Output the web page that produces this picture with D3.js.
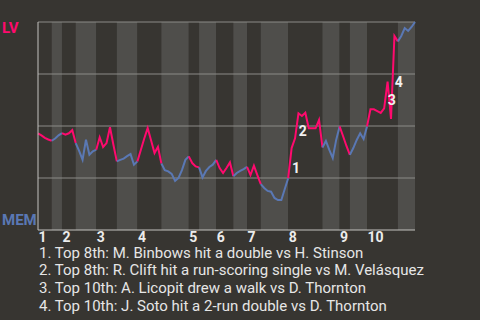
<!DOCTYPE html>
<html>
<head>
<meta charset="utf-8">
<script src="https://cdn.jsdelivr.net/npm/d3@7"></script>
<style>
  html, body { margin: 0; padding: 0; background: #373531; }
  svg { display: block; font-family: Roboto, sans-serif; }
</style>
</head>
<body>
<div id="chart"></div>
<script>
// LV win probability after each play (0 = MEM wins, 1 = LV wins)
const winProb = [
  0.465, 0.455, 0.443, 0.435, 0.429, 0.44, 0.455, 0.466, 0.458, 0.465,
  0.48, 0.418, 0.38, 0.338, 0.434, 0.362, 0.378, 0.386, 0.446, 0.399,
  0.418, 0.494, 0.41, 0.33, 0.337, 0.343, 0.355, 0.365, 0.314, 0.33,
  0.385, 0.44, 0.49, 0.43, 0.37, 0.40, 0.32, 0.288, 0.282, 0.27,
  0.236, 0.25, 0.288, 0.337, 0.354, 0.322, 0.306, 0.301, 0.253, 0.284,
  0.303, 0.314, 0.337, 0.298, 0.274, 0.298, 0.325, 0.258, 0.274, 0.284,
  0.293, 0.304, 0.264, 0.309, 0.264, 0.221, 0.202, 0.188, 0.184, 0.154,
  0.144, 0.144, 0.197, 0.249, 0.394, 0.441, 0.561, 0.548, 0.564, 0.489,
  0.489, 0.489, 0.529, 0.397, 0.428, 0.385, 0.346, 0.433, 0.498, 0.452,
  0.404, 0.361, 0.394, 0.433, 0.465, 0.438, 0.498, 0.58, 0.58, 0.572,
  0.563, 0.585, 0.713, 0.534, 0.933, 0.907, 0.933, 0.971, 0.957, 0.976,
  1.0
];
// play index where each half inning starts (top 1, bot 1, top 2, ...), plus the end
const halfStarts = [0, 4, 7, 11, 17, 23, 29, 36, 44, 47, 52, 57, 61, 65, 73, 83, 88, 91, 96, 105, 110];
const innings = ["1", "2", "3", "4", "5", "6", "7", "8", "9", "10"];
const gridTicks = [0.25, 0.5, 0.75, 1];
// key plays
const eventPlays = [74, 76, 102, 104];
const eventTexts = [
  "Top 8th: M. Binbows hit a double vs H. Stinson",
  "Top 8th: R. Clift hit a run-scoring single vs M. Velásquez",
  "Top 10th: A. Licopit drew a walk vs D. Thornton",
  "Top 10th: J. Soto hit a 2-run double vs D. Thornton"
];
const teams = ["LV", "MEM"];

const W = 480, H = 320;
const margin = { top: 22, right: 65, bottom: 90, left: 38 };
const width = W - margin.left - margin.right;
const height = H - margin.top - margin.bottom;
const awayColor = "#ff0a6e";
const homeColor = "#5a78b4";

const svg = d3.select("#chart").append("svg")
  .attr("width", W)
  .attr("height", H);
const g = svg.append("g")
  .attr("transform", "translate(" + margin.left + "," + margin.top + ")");

const x = d3.scaleLinear()
  .domain([0, winProb.length - 1])
  .range([0, width]);
const y = d3.scaleLinear()
  .domain([0, 1])
  .range([height, 0]);

// half inning bands, bottom halves lighter
const halves = d3.range(halfStarts.length - 1).map(i => ({
  start: halfStarts[i], end: halfStarts[i + 1], top: i % 2 === 0
}));
g.selectAll("rect.band")
  .data(halves)
  .join("rect")
  .attr("class", "band")
  .attr("x", d => x(d.start))
  .attr("width", d => x(d.end) - x(d.start))
  .attr("y", 0)
  .attr("height", height)
  .attr("fill", d => d.top ? "#373531" : "#4f4e4b");

// grid lines
g.selectAll("line.grid")
  .data(gridTicks)
  .join("line")
  .attr("class", "grid")
  .attr("x1", 0).attr("x2", width)
  .attr("y1", d => y(d)).attr("y2", d => y(d))
  .attr("stroke", "#8c8b88")
  .attr("stroke-width", 1);

// win probability line, coloured by the team at bat
const line = d3.line()
  .x(d => x(d))
  .y(d => y(winProb[d]));
g.selectAll("path.wp")
  .data(halves)
  .join("path")
  .attr("class", "wp")
  .attr("fill", "none")
  .attr("stroke", d => d.top ? awayColor : homeColor)
  .attr("stroke-width", 2)
  .attr("d", d => line(d3.range(d.start, d.end + 1)));

// axes frame
g.append("line")
  .attr("x1", 0).attr("x2", 0).attr("y1", 0).attr("y2", height)
  .attr("stroke", "#c4c3c0").attr("stroke-width", 1);
g.append("line")
  .attr("x1", 0).attr("x2", width).attr("y1", height).attr("y2", height)
  .attr("stroke", "#c4c3c0").attr("stroke-width", 1);

// inning numbers
const xAxis = d3.axisBottom(x)
  .tickValues(innings.map((d, i) => halfStarts[i * 2]))
  .tickFormat((d, i) => innings[i])
  .tickSize(0);
const ax = g.append("g")
  .attr("transform", "translate(0," + height + ")")
  .call(xAxis);
ax.select(".domain").remove();
ax.selectAll("text")
  .attr("text-anchor", "start")
  .attr("dy", null)
  .attr("y", 12)
  .attr("fill", "#ececec")
  .attr("font-size", 14)
  .attr("font-weight", "bold")
  .attr("font-family", "Roboto, sans-serif");

// event markers
g.selectAll("text.event")
  .data(eventPlays)
  .join("text")
  .attr("class", "event")
  .attr("x", d => (x(d - 1) + x(d)) / 2 + 2)
  .attr("y", d => (y(winProb[d - 1]) + y(winProb[d])) / 2 + 10)
  .attr("fill", "#f0f0f0")
  .attr("font-size", 14)
  .attr("font-weight", "bold")
  .text((d, i) => i + 1);

// team labels
svg.append("text")
  .attr("x", 2).attr("y", margin.top + 11)
  .attr("fill", awayColor)
  .attr("font-size", 15)
  .attr("font-weight", "bold")
  .text(teams[0]);
svg.append("text")
  .attr("x", 2).attr("y", margin.top + height - 5)
  .attr("fill", homeColor)
  .attr("font-size", 15)
  .attr("font-weight", "bold")
  .text(teams[1]);

// legend of key plays
svg.selectAll("text.legend")
  .data(eventTexts)
  .join("text")
  .attr("class", "legend")
  .attr("x", margin.left + 1)
  .attr("y", (d, i) => 257.7 + i * 17.7)
  .attr("fill", "#e6e6e6")
  .attr("font-size", 15)
  .text((d, i) => (i + 1) + ". " + d);
</script>
</body>
</html>
